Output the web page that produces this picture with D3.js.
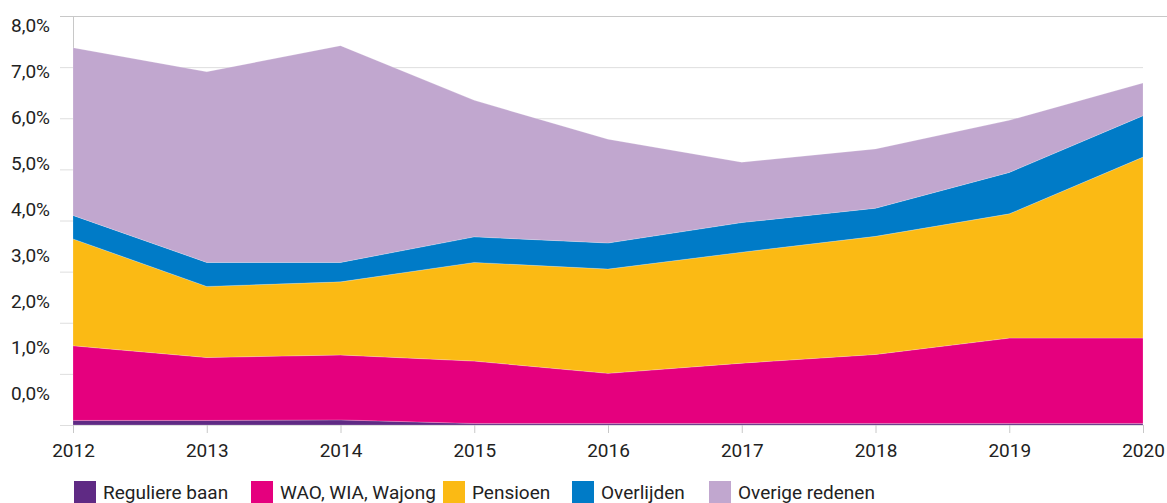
<!DOCTYPE html>
<html><head><meta charset="utf-8">
<script src="https://cdn.jsdelivr.net/npm/d3@7"></script>
<style>
html,body{margin:0;padding:0;background:#fff;}
svg{display:block;}
svg text{font-family:'Roboto',sans-serif;}
</style></head>
<body><svg id="c" width="1167" height="503"></svg>
<script>
const years = [2012,2013,2014,2015,2016,2017,2018,2019,2020];
const reguliereBaan = [0.09,0.09,0.10,0.03,0.03,0.03,0.03,0.03,0.03];
const waoWiaWajong = [1.46,1.23,1.27,1.22,0.98,1.18,1.35,1.67,1.67];
const pensioen = [2.09,1.39,1.43,1.93,2.04,2.17,2.31,2.43,3.54];
const overlijden = [0.46,0.47,0.38,0.50,0.51,0.58,0.55,0.81,0.81];
const overigeRedenen = [3.28,3.73,4.24,2.67,2.03,1.18,1.16,1.02,0.64];
const seriesNames = ["Reguliere baan","WAO, WIA, Wajong","Pensioen","Overlijden","Overige redenen"];
const seriesColors = ["#5f2a84","#e5007e","#fbba14","#007bc7","#c1a7cf"];
const yTicks = [0,1,2,3,4,5,6,7,8];
const yTickLabels = ["0,0%","1,0%","2,0%","3,0%","4,0%","5,0%","6,0%","7,0%","8,0%"];

const FONT = "Roboto, sans-serif";
const svg = d3.select("#c");
const x = d3.scaleLinear().domain([2012,2020]).range([73,1143]);
const y = d3.scaleLinear().domain([0,8]).range([425,16]);
const yLab = d3.scaleLinear().domain([0,8]).range([393,25]);

const table = years.map((yr,i)=>({year:yr,
  "Reguliere baan":reguliereBaan[i],
  "WAO, WIA, Wajong":waoWiaWajong[i],
  "Pensioen":pensioen[i],
  "Overlijden":overlijden[i],
  "Overige redenen":overigeRedenen[i]}));
const stack = d3.stack().keys(seriesNames)(table);

// gridlines
svg.append("g").selectAll("line").data(yTicks).join("line")
  .attr("x1",60)
  .attr("x2",d=>d===8?1167:1143)
  .attr("y1",d=>y(d)+0.5).attr("y2",d=>y(d)+0.5)
  .attr("stroke",d=>d===8?"#c8c8c8":"#dedede").attr("stroke-width",1);
// left axis line
svg.append("line").attr("x1",73.5).attr("x2",73.5).attr("y1",16).attr("y2",426)
  .attr("stroke","#c8c8c8");

// areas
const area = d3.area().x(d=>x(d.data.year)).y0(d=>y(d[0])).y1(d=>y(d[1]));
svg.append("g").selectAll("path").data(stack).join("path")
  .attr("d",area).attr("fill",(d,i)=>seriesColors[i])
  .attr("stroke","#ffffff").attr("stroke-width",0.4).attr("stroke-opacity",0.5);

// x axis
const xAxis = d3.axisBottom(x).tickValues(years).tickFormat(d3.format("d")).tickSize(8).tickPadding(11);
const gx = svg.append("g").attr("transform","translate(0,425)").call(xAxis)
  .attr("font-family",FONT).attr("font-size",19);
gx.select(".domain").remove();
gx.selectAll(".tick line").attr("stroke","#c8c8c8");
gx.selectAll("text").attr("fill","#222");

// y labels
const yAxis = d3.axisLeft(yLab).tickValues(yTicks).tickFormat((d,i)=>yTickLabels[i]).tickSize(0).tickPadding(0);
const gy = svg.append("g").attr("transform","translate(50,0)").call(yAxis)
  .attr("font-family",FONT).attr("font-size",19);
gy.select(".domain").remove();
gy.selectAll("text").attr("fill","#222");

// legend
const legendX = [74,251,443,572,709];
const lg = svg.append("g").attr("font-family",FONT).attr("font-size",19);
seriesNames.forEach((n,i)=>{
  lg.append("rect").attr("x",legendX[i]).attr("y",481).attr("width",22).attr("height",22).attr("fill",seriesColors[i]);
  lg.append("text").attr("x",legendX[i]+29).attr("y",499).attr("fill","#222").text(n);
});
</script></body></html>
